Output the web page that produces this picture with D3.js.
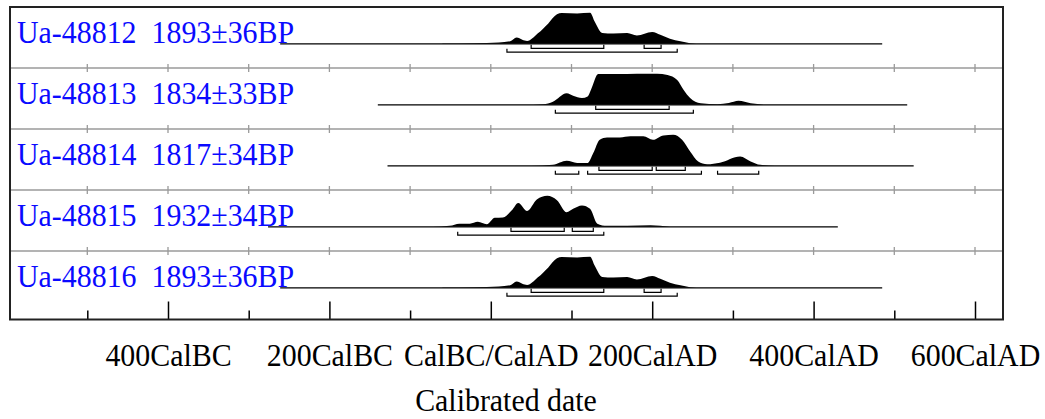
<!DOCTYPE html>
<html>
<head>
<meta charset="utf-8">
<script src="https://cdn.jsdelivr.net/npm/d3@7"></script>
<style>
  body { margin: 0; background: #fff; }
  svg { display: block; }
</style>
</head>
<body>
<div id="chart"></div>
<script>
const width = 1045;
const height = 419;

// samples, one row each
const samples = ['Ua-48812', 'Ua-48813', 'Ua-48814', 'Ua-48815', 'Ua-48816'];
const ages = ['1893±36BP', '1834±33BP', '1817±34BP', '1932±34BP', '1893±36BP'];

// extent of the calibration plot for each row (calendar years, BC negative)
const spans = [[-261, 485], [-140, 516], [-128, 524], [-276, 430], [-261, 485]];

// probability distributions (relative height)
const years1893 = [-60, -20, 10, 24, 32, 39, 45, 58, 71, 82, 88, 107, 123, 129, 138, 152, 169, 181, 200, 210, 222, 235, 247, 262];
const prob1893 = [0.01, 0.02, 0.04, 0.08, 0.2, 0.13, 0.09, 0.33, 0.65, 0.95, 0.99, 0.98, 1.0, 0.7, 0.35, 0.33, 0.35, 0.27, 0.38, 0.29, 0.16, 0.08, 0.02, 0];

const years1834 = [40, 65, 77, 94, 102, 113, 120, 125, 133, 157, 181, 206, 219, 231, 239, 247, 260, 281, 295, 307, 322, 340];
const prob1834 = [0, 0.02, 0.1, 0.37, 0.29, 0.22, 0.27, 0.54, 0.99, 0.99, 1.0, 1.0, 0.96, 0.8, 0.48, 0.22, 0.05, 0.02, 0.06, 0.13, 0.05, 0];

const years1817 = [50, 77, 94, 107, 120, 127, 135, 144, 160, 173, 189, 201, 214, 226, 237, 247, 257, 268, 284, 309, 322, 334, 352];
const prob1817 = [0, 0.03, 0.16, 0.09, 0.09, 0.41, 0.84, 0.91, 0.91, 0.95, 0.95, 0.84, 0.98, 1.0, 0.84, 0.46, 0.14, 0.05, 0.1, 0.3, 0.14, 0.03, 0];

const years1932 = [-72, -51, -39, -26, -16, -5, 5, 15, 26, 34, 45, 57, 70, 82, 94, 102, 113, 123, 132, 144, 169, 198, 222];
const prob1932 = [0, 0.03, 0.1, 0.1, 0.16, 0.08, 0.29, 0.3, 0.53, 0.77, 0.51, 0.88, 1.0, 0.86, 0.47, 0.58, 0.69, 0.58, 0.1, 0.03, 0.03, 0.05, 0];

const distYears = [years1893, years1834, years1817, years1932, years1893];
const distProbs = [prob1893, prob1834, prob1817, prob1932, prob1893];

// 68.2% and 95.4% ranges
const sigma1 = [[[50, 140], [190, 211]], [[130, 221]], [[134, 200], [205, 241]], [[25, 91], [101, 127]], [[50, 140], [190, 211]]];
const sigma2 = [[[20, 231]], [[80, 251]], [[80, 109], [120, 261], [281, 332]], [[-41, 140]], [[20, 231]]];

// axis
const tickYears = [-400, -200, 0, 200, 400, 600];
const tickLabels = ['400CalBC', '200CalBC', 'CalBC/CalAD', '200CalAD', '400CalAD', '600CalAD'];
const minorYears = [-500, -300, -100, 100, 300, 500];
const gridYears = [-500, -400, -300, -200, -100, 0, 100, 200, 300, 400, 500, 600];

const frame = { left: 10, right: 1003, top: 7, bottom: 319.5 };
const fontSize = 32.5;
const squeeze = 0.92;   // text in the picture is a bit narrow

const svg = d3.select('#chart')
  .append('svg')
  .attr('width', width)
  .attr('height', height);

const x = d3.scaleLinear()
  .domain([-400, 600])
  .range([168, 975]);

const row = d3.scaleBand()
  .domain(d3.range(samples.length))
  .range([frame.top, frame.top + 61 * samples.length]);

const h = d3.scaleLinear().domain([0, 1]).range([0, 31]);
const baseOf = (i) => row(i) + 36.8;

/* row separators with small ticks */
const sep = svg.append('g').attr('stroke', '#9a9a9a').attr('stroke-width', 1.3);
d3.range(1, samples.length).forEach((i) => {
  const y = row(i);
  sep.append('line')
    .attr('x1', frame.left).attr('x2', frame.right)
    .attr('y1', y).attr('y2', y);
  sep.selectAll(null)
    .data(gridYears)
    .enter()
    .append('line')
    .attr('x1', (d) => x(d)).attr('x2', (d) => x(d))
    .attr('y1', y - 4).attr('y2', y + 4);
});

/* rows */
const area = d3.area()
  .x((d) => x(d[0]))
  .curve(d3.curveMonotoneX);

const bracket = (r, y0, y1) => 'M' + x(r[0]) + ',' + y0 + 'V' + y1 + 'H' + x(r[1]) + 'V' + y0;

samples.forEach((s, i) => {
  const base = baseOf(i);
  const g = svg.append('g');

  g.append('text')
    .attr('transform', 'translate(17,' + (base - 0.5) + ') scale(' + squeeze + ',1)')
    .attr('font-family', '"Liberation Serif", "Times New Roman", serif')
    .attr('font-size', fontSize)
    .attr('fill', '#0a0aff')
    .style('white-space', 'pre')
    .text(s + '  ' + ages[i]);

  g.append('line')
    .attr('x1', x(spans[i][0])).attr('x2', x(spans[i][1]))
    .attr('y1', base).attr('y2', base)
    .attr('stroke', '#000').attr('stroke-width', 1.3);

  const pts = distYears[i].map((yr, k) => [yr, distProbs[i][k]]);
  g.append('path')
    .datum(pts)
    .attr('d', area.y0(base).y1((d) => base - h(d[1])))
    .attr('fill', '#000');

  g.selectAll('.s1')
    .data(sigma1[i])
    .enter()
    .append('path')
    .attr('d', (r) => bracket(r, base + 1, base + 4.5))
    .attr('fill', 'none').attr('stroke', '#000').attr('stroke-width', 1.2);

  g.selectAll('.s2')
    .data(sigma2[i])
    .enter()
    .append('path')
    .attr('d', (r) => bracket(r, base + 5, base + 8.3))
    .attr('fill', 'none').attr('stroke', '#000').attr('stroke-width', 1.2);
});

/* bottom axis */
const axis = svg.append('g')
  .attr('transform', 'translate(0,' + frame.bottom + ')')
  .call(d3.axisBottom(x)
    .tickValues(tickYears)
    .tickFormat((d, k) => tickLabels[k])
    .tickSizeInner(-18)
    .tickSizeOuter(0)
    .tickPadding(23));
axis.select('.domain').remove();
axis.selectAll('line').attr('stroke', '#000').attr('stroke-width', 1.5);
axis.selectAll('text')
  .attr('font-family', '"Liberation Serif", "Times New Roman", serif')
  .attr('font-size', fontSize)
  .attr('fill', '#000')
  .attr('transform', 'scale(' + squeeze + ',1)');

const minor = svg.append('g')
  .attr('transform', 'translate(0,' + frame.bottom + ')')
  .call(d3.axisBottom(x)
    .tickValues(minorYears)
    .tickFormat('')
    .tickSizeInner(-9)
    .tickSizeOuter(0));
minor.select('.domain').remove();
minor.selectAll('line').attr('stroke', '#000').attr('stroke-width', 1.5);

svg.append('text')
  .attr('transform', 'translate(506,411) scale(' + squeeze + ',1)')
  .attr('text-anchor', 'middle')
  .attr('font-family', '"Liberation Serif", "Times New Roman", serif')
  .attr('font-size', fontSize)
  .attr('fill', '#000')
  .text('Calibrated date');

/* frame */
svg.append('rect')
  .attr('x', frame.left).attr('y', frame.top)
  .attr('width', frame.right - frame.left)
  .attr('height', frame.bottom - frame.top)
  .attr('fill', 'none')
  .attr('stroke', '#222')
  .attr('stroke-width', 2);
</script>
</body>
</html>
